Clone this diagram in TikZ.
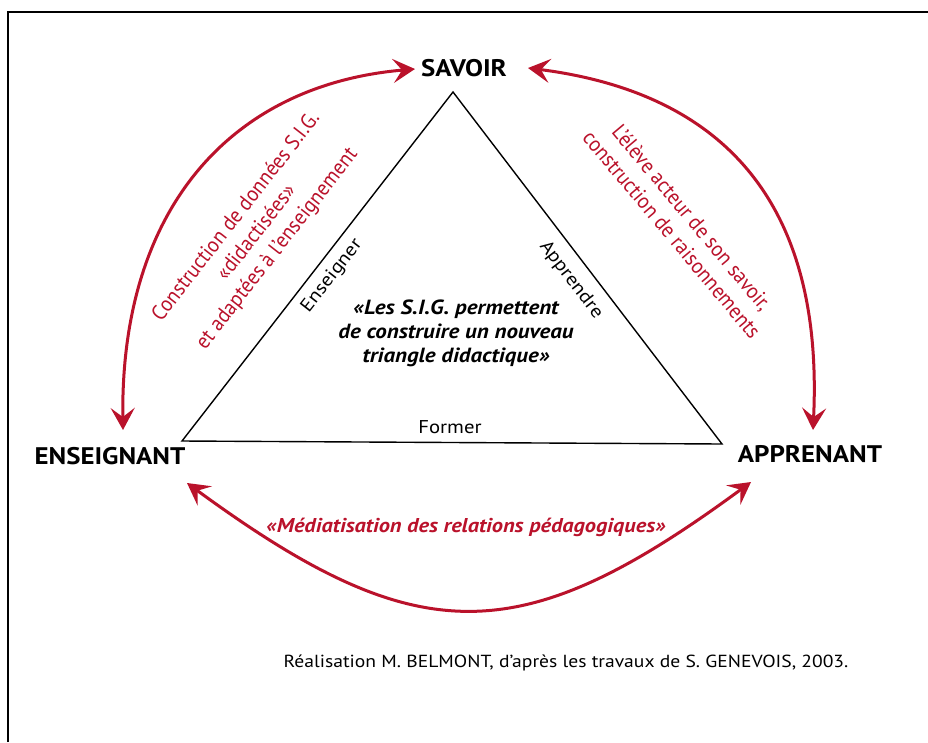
\documentclass[tikz,border=0pt]{standalone}
\usepackage{fontspec}
\setmainfont{PT Sans}
\newfontfamily\wf[FakeStretch=1.12]{PT Sans}
\newfontfamily\nf[FakeStretch=0.93]{PT Sans}
\usetikzlibrary{arrows.meta}
\definecolor{myred}{RGB}{186,18,43}
\begin{document}
\begin{tikzpicture}[x=1pt,y=-1pt,
  redarc/.style={draw=myred, line width=3pt,
    {Stealth[length=22pt,width=24pt,inset=9pt]}-{Stealth[length=22pt,width=24pt,inset=9pt]}},
  tri/.style={draw=black, line width=1.4pt, line join=miter},
  pole/.style={font=\wf\fontsize{24}{28}\selectfont\bfseries, inner sep=0pt},
  side/.style={font=\wf\fontsize{18.5}{22}\selectfont, inner sep=0pt},
  redtxt/.style={text=myred, font=\nf\fontsize{21.5}{26}\selectfont, align=center, inner sep=0pt}]
\useasboundingbox (0,0) rectangle (928,742);
\fill[white] (0,0) rectangle (928,742);
% frame
\draw[line width=2pt] (8,742) -- (8,12) -- (930,12);
% poles
\node[pole, anchor=base] (savoir) at (464,76) {SAVOIR};
\node[pole, anchor=base] (ens) at (110,464) {ENSEIGNANT};
\node[pole, anchor=base] (app) at (810,462) {APPRENANT};
% triangle
\coordinate (A) at (453,92);
\coordinate (B) at (182,441);
\coordinate (C) at (722,444);
\draw[tri] (A) -- (B) -- (C) -- cycle;
\node[side, rotate=52] (enseigner) at (332,276) {Enseigner};
\node[side, rotate=-52.6] (apprendre) at (571,280) {Apprendre};
\node[side, anchor=base] (former) at (450,433) {Former};
\node[font=\wf\fontsize{20.5}{24}\selectfont\bfseries\itshape, align=center, anchor=base, inner sep=0pt] (mid) at (456,362)
  {«Les S.I.G. permettent\\de construire un nouveau\\triangle didactique»};
% red arcs
\coordinate (l1) at (123,430);
\coordinate (l2) at (415,69);
\coordinate (r1) at (528,68);
\coordinate (r2) at (813,430);
\coordinate (b1) at (187,483);
\coordinate (b2) at (751,482);
\draw[redarc] (l1) .. controls (120,210) and (230,85) .. (l2);
\draw[redarc] (r1) .. controls (700,90) and (825,180) .. (r2);
\draw[redarc] (b1) .. controls (418,652) and (520,652) .. (b2);
% red labels
\node[redtxt, rotate=52] (ltxt) at (257,233)
  {Construction de données S.I.G.\\«didactisées»\\et adaptées à l’enseignement};
\node[redtxt, rotate=-50] (rtxt) at (682,226)
  {L’élève acteur de son savoir,\\construction de raisonnements};
\node[text=myred, font=\wf\fontsize{20}{24}\selectfont\bfseries\itshape, anchor=base, inner sep=0pt] (btxt) at (466,532)
  {«Médiatisation des relations pédagogiques»};
% credit
\node[font=\wf\fontsize{17.5}{21}\selectfont, anchor=base, inner sep=0pt] (credit) at (566,667)
  {Réalisation M. BELMONT, d’après les travaux de S. GENEVOIS, 2003.};
\end{tikzpicture}
\end{document}
